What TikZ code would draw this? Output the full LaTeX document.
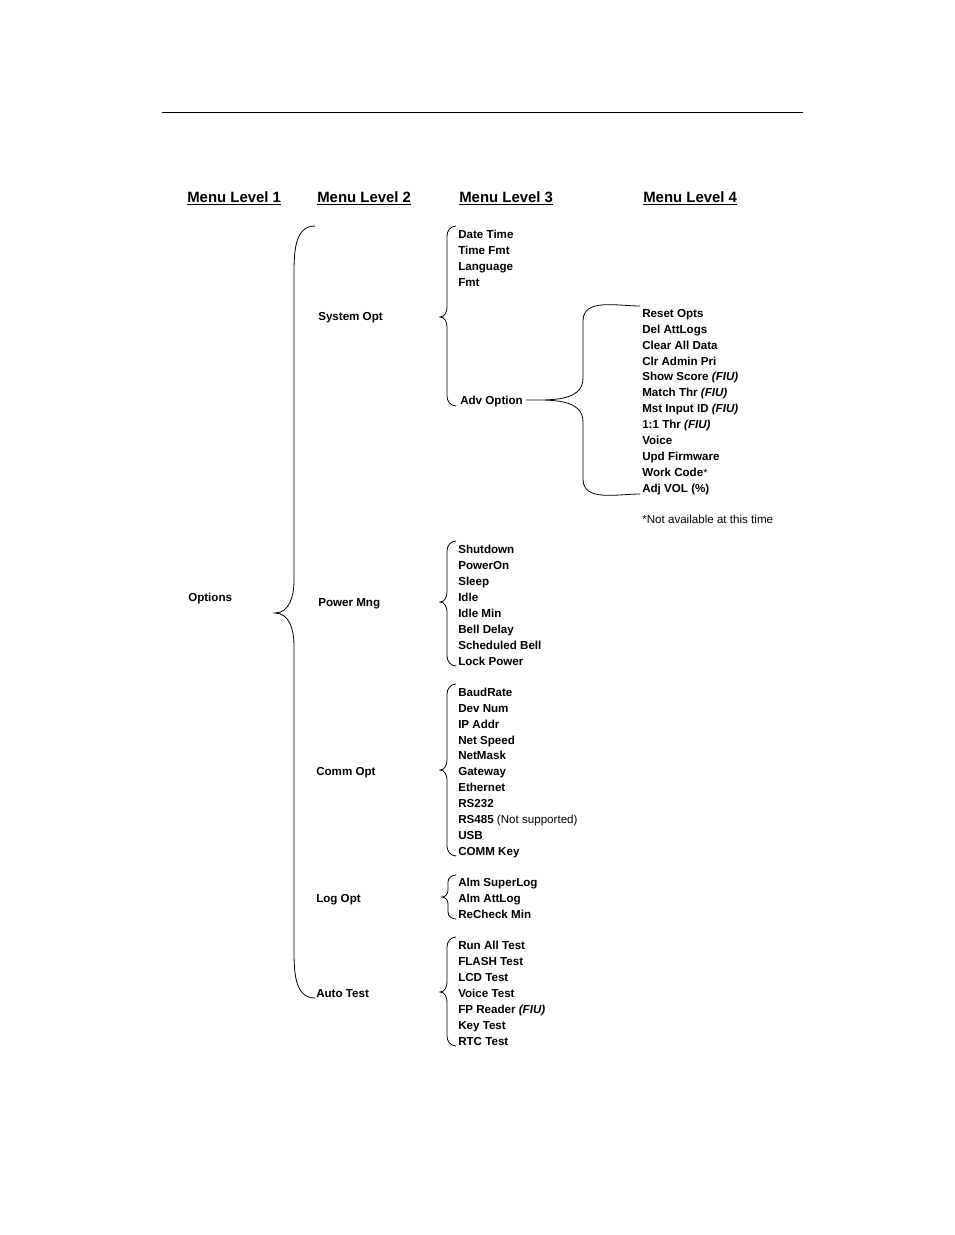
\documentclass[tikz,border=0pt]{standalone}
\usepackage{fontspec}
\setmainfont{Liberation Sans}
\usepackage{tikz}

% 波括弧: 先端x, 先端y, 縦線x, 端x, 上y, 下y, 先端側の曲がり, 端側の曲がり
\newcommand{\menubrace}[8]{%
  \draw[braceline] (#4,#5) to[out=180,in=90] (#3,#5+#8) -- (#3,#2-#7)
    to[out=-90,in=0] (#1,#2) to[out=0,in=90] (#3,#2+#7)
    -- (#3,#6-#8) to[out=-90,in=180] (#4,#6);}

\begin{document}
\begin{tikzpicture}[x=0.75pt, y=-0.75pt,
    braceline/.style={line width=0.6pt},
    item/.style={anchor=base west, inner sep=0pt, font=\bfseries\fontsize{8.7}{10}\selectfont},
    lvlhead/.style={anchor=base west, inner sep=0pt, font=\bfseries\fontsize{11.2}{12}\selectfont}]
  \useasboundingbox (0,0) rectangle (954,1235);
  % 上の罫線
  \draw[line width=0.75pt] (162,112) -- (803,112);
  % 見出し
  \node[lvlhead] (head1) at (187,202.3) {\underline{Menu Level 1}};
  \node[lvlhead] (head2) at (317,202.3) {\underline{Menu Level 2}};
  \node[lvlhead] (head3) at (459,202.3) {\underline{Menu Level 3}};
  \node[lvlhead] (head4) at (643,202.3) {\underline{Menu Level 4}};
  % レベル1・2
  \node[item] (options) at (188,601.3) {Options};
  \node[item] (sysopt) at (318,320.3) {System Opt};
  \node[item] (pwrmng) at (318,606.3) {Power Mng};
  \node[item] (commopt) at (316,775.3) {Comm Opt};
  \node[item] (logopt) at (316,902.3) {Log Opt};
  \node[item] (autotest) at (316,997.3) {Auto Test};
  \menubrace{275}{613}{294}{315}{226}{998}{32}{50}
  % System Opt
  \foreach \t [count=\i from 0] in {Date Time, Time Fmt, Language, Fmt} {
    \node[item] (sys\i) at (458,238.3+\i*16) {\t};
  }
  \node[item] (advopt) at (460,404.3) {Adv Option};
  \menubrace{440}{317}{447}{456}{226}{406}{10}{10}
  % Adv Option
  \foreach \t [count=\i from 0] in {Reset Opts, Del AttLogs, Clear All Data,
      Clr Admin Pri, Show Score \textit{(FIU)}, Match Thr \textit{(FIU)},
      Mst Input ID \textit{(FIU)}, 1:1 Thr \textit{(FIU)}, Voice, Upd Firmware,
      Work Code{\mdseries\footnotesize *}, Adj VOL (\%)} {
    \node[item] (adv\i) at (642,317.3+\i*15.9) {\t};
  }
  \node[item, font=\fontsize{8.7}{10}\selectfont] (note) at (642,523.3) {*Not available at this time};
  \menubrace{526}{400}{583}{640}{306}{494}{22}{15}
  % Power Mng
  \foreach \t [count=\i from 0] in {Shutdown, PowerOn, Sleep, Idle, Idle Min,
      Bell Delay, Scheduled Bell, Lock Power} {
    \node[item] (pwr\i) at (458,553.3+\i*16) {\t};
  }
  \menubrace{440}{602}{447}{456}{541}{666}{10}{10}
  % Comm Opt
  \foreach \t [count=\i from 0] in {BaudRate, Dev Num, IP Addr, Net Speed, NetMask,
      Gateway, Ethernet, RS232, RS485 {\mdseries (Not supported)}, USB, COMM Key} {
    \node[item] (comm\i) at (458,696.3+\i*15.9) {\t};
  }
  \menubrace{440}{770}{447}{456}{684}{856}{10}{10}
  % Log Opt
  \foreach \t [count=\i from 0] in {Alm SuperLog, Alm AttLog, ReCheck Min} {
    \node[item] (log\i) at (458,886.3+\i*16) {\t};
  }
  \menubrace{442}{897}{448}{456}{875}{919}{7}{7}
  % Auto Test
  \foreach \t [count=\i from 0] in {Run All Test, FLASH Test, LCD Test, Voice Test,
      FP Reader \textit{(FIU)}, Key Test, RTC Test} {
    \node[item] (test\i) at (458,949.3+\i*16) {\t};
  }
  \menubrace{440}{992}{447}{456}{937}{1046}{10}{10}
\end{tikzpicture}
\end{document}
